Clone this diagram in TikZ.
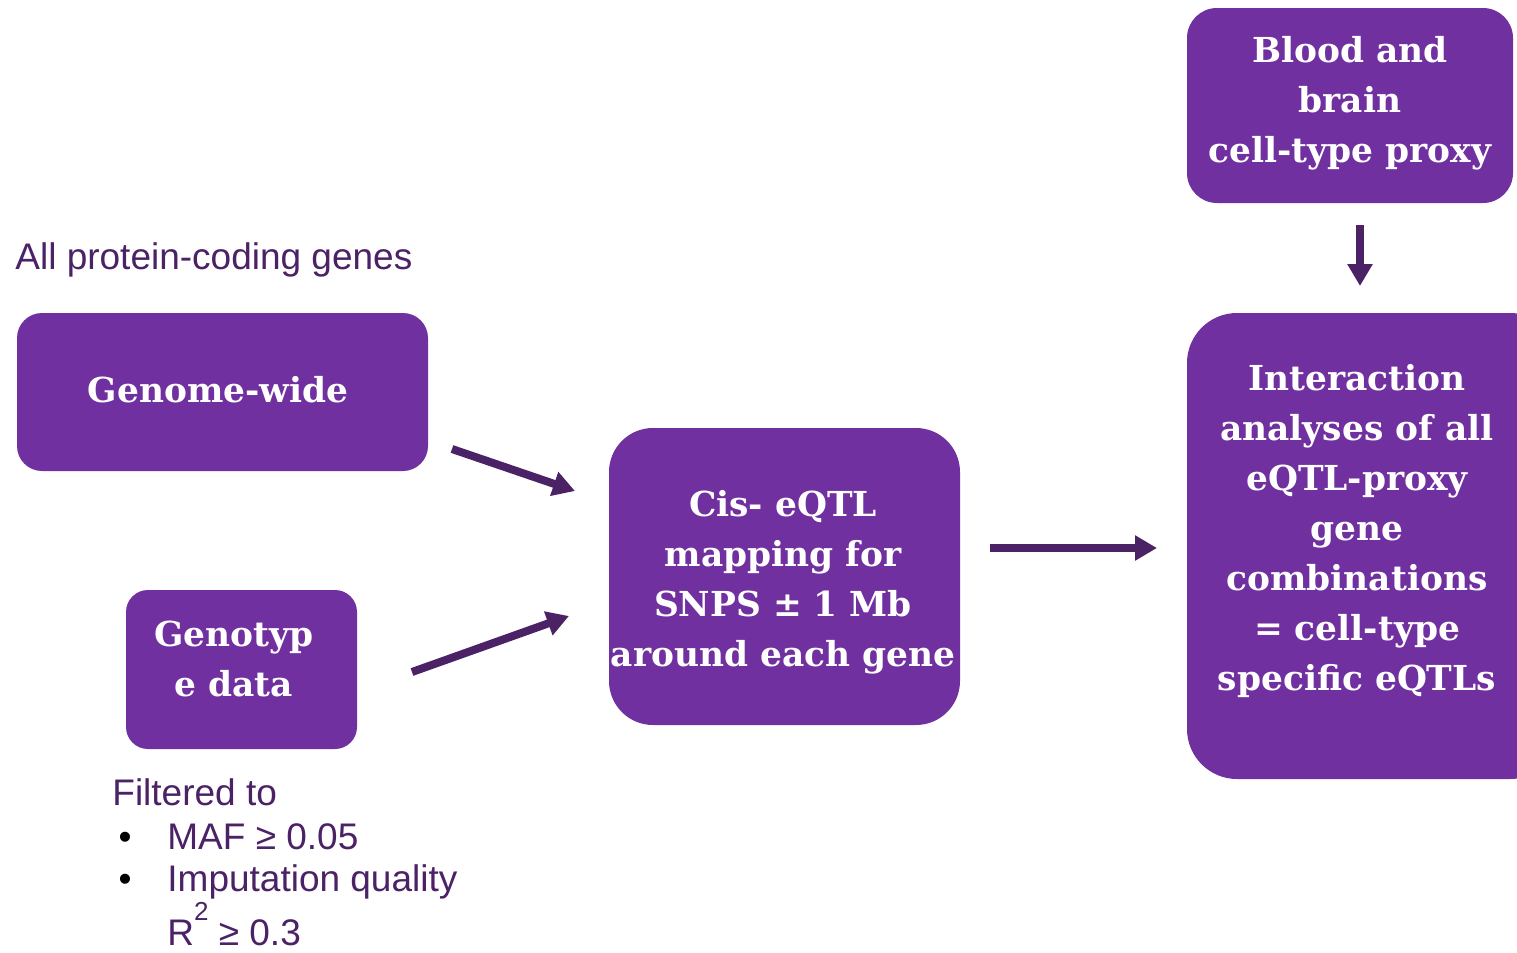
\documentclass[tikz,border=0pt]{standalone}
\usepackage{fontspec}
\newfontfamily\boxfont{DejaVu Serif}
\newfontfamily\notefont{Liberation Sans}
\usetikzlibrary{arrows.meta}
\definecolor{boxpurple}{HTML}{7030A0}
\definecolor{inkpurple}{HTML}{4B2266}

\begin{document}
\begin{tikzpicture}[x=0.5pt,y=-0.5pt,
  pbox/.style={fill=boxpurple,draw=none,inner sep=0pt},
  btext/.style={text=white,font=\boxfont\bfseries\fontsize{17.2}{25}\selectfont,align=center,inner sep=0pt},
  note/.style={text=inkpurple,font=\notefont\fontsize{18.5}{22}\selectfont,anchor=base west,inner sep=0pt},
  arr/.style={draw=inkpurple,line width=4pt,-{Triangle[length=11pt,width=12pt]}}]
\useasboundingbox (0,0) rectangle (1517,953);

% boxes
\node[pbox,minimum width=163pt,minimum height=97.5pt,rounded corners=15pt](blood) at (1350,105.5){};
\node[pbox,minimum width=205.5pt,minimum height=79pt,rounded corners=12.5pt](genome) at (222.5,392){};
\node[pbox,minimum width=115.5pt,minimum height=79.5pt,rounded corners=11pt](geno) at (241.5,669.5){};
\node[pbox,minimum width=175.5pt,minimum height=148.5pt,rounded corners=22pt](cis) at (784.5,576.5){};
\node[pbox,minimum width=186.5pt,minimum height=233pt,rounded corners=25pt](inter) at (1373.5,546){};

% box texts
\node[btext](blood-t) at (1350,103){Blood and\\brain\\cell-type proxy};
\node[btext](genome-t) at (218,390){Genome-wide};
\node[btext](geno-t) at (234,659){Genotyp\\e data};
\node[btext](cis-t) at (783,582){Cis- eQTL\\mapping for\\SNPS ± 1 Mb\\around each gene};
\node[btext](inter-t) at (1357,531){Interaction\\analyses of all\\eQTL-proxy\\gene\\combinations\\= cell-type\\specific eQTLs};

% notes
\node[note](genes) at (15,269){All protein-coding genes};
\node[note](filt) at (112,805){Filtered to};
\node[note,anchor=base,text=black](b1) at (125,849){\textbullet};
\node[note](maf) at (167,849){MAF ≥ 0.05};
\node[note,anchor=base,text=black](b2) at (125,891){\textbullet};
\node[note](imp) at (167,891){Imputation quality};
\node[note](rsq) at (167,945){R\raisebox{12.5pt}{\fontsize{13}{13}\selectfont 2} ≥ 0.3};

% arrow ends
\coordinate(a1) at (452,449);
\coordinate(a2) at (575,491);
\coordinate(b1s) at (412,672);
\coordinate(b2s) at (569,616);
\coordinate(c1) at (990,548);
\coordinate(c2) at (1157,548);
\coordinate(d1) at (1360,225);
\coordinate(d2) at (1360,286);

\draw[arr](a1)--(a2);
\draw[arr](b1s)--(b2s);
\draw[arr](c1)--(c2);
\draw[arr](d1)--(d2);
\end{tikzpicture}
\end{document}
